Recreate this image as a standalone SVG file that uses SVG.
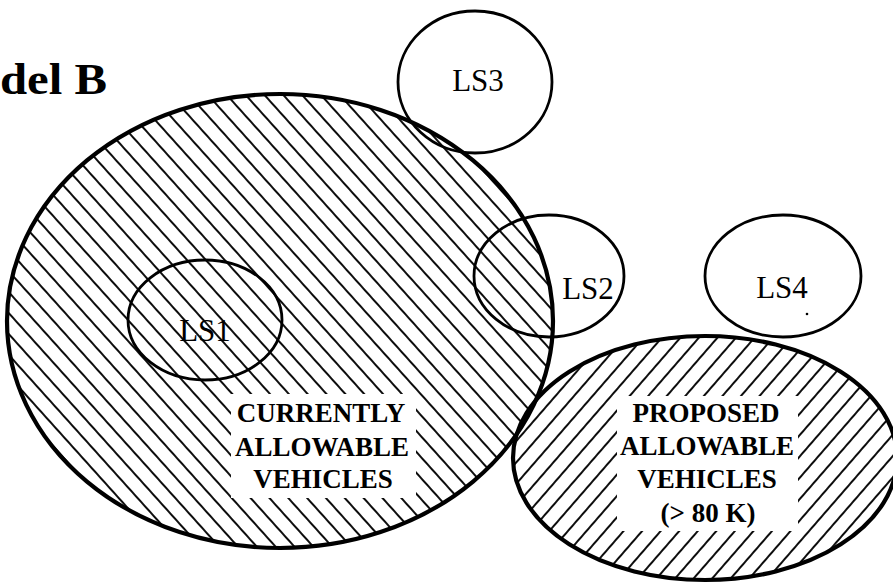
<svg xmlns="http://www.w3.org/2000/svg" width="893" height="584" viewBox="0 0 893 584">
<style>
.outline{fill:none;stroke:#000;stroke-width:2.8}
.thick{fill:none;stroke:#000;stroke-width:4.2}
.lbl{font-family:"Liberation Serif","Times New Roman",serif;font-size:31px;fill:#000;text-anchor:middle}
.big{font-family:"Liberation Serif","Times New Roman",serif;font-size:27px;font-weight:bold;fill:#000;text-anchor:middle}
.title{font-family:"Liberation Serif","Times New Roman",serif;font-size:44px;font-weight:bold;fill:#000}
</style>
<defs>
<pattern id="hatchBack" patternUnits="userSpaceOnUse" width="20" height="14" patternTransform="rotate(48)">
<line x1="-1" y1="7" x2="21" y2="7" stroke="#000" stroke-width="1.9"/>
</pattern>
<pattern id="hatchFwd" patternUnits="userSpaceOnUse" width="20" height="14" patternTransform="rotate(-49)">
<line x1="-1" y1="7" x2="21" y2="7" stroke="#000" stroke-width="1.9"/>
</pattern>
</defs>
<rect width="893" height="584" fill="#fff"/>
<text class="title" x="0" y="94" textLength="107" lengthAdjust="spacingAndGlyphs">del B</text>

<g id="current">
<ellipse cx="280" cy="321" rx="273" ry="227" fill="url(#hatchBack)"/>
</g>
<g id="proposed">
<ellipse cx="705" cy="458" rx="192" ry="122" fill="url(#hatchFwd)"/>
<rect x="617" y="396" width="181" height="135" fill="#fff"/>
<ellipse cx="705" cy="458" rx="192" ry="122" class="thick"/>
<text class="big" x="706" y="422">PROPOSED</text>
<text class="big" x="707" y="455">ALLOWABLE</text>
<text class="big" x="707" y="488">VEHICLES</text>
<text class="big" x="708" y="522">(&gt; 80 K)</text>
</g>
<g id="current-label">
<rect x="231" y="394" width="185" height="104" fill="#fff"/>
<ellipse cx="280" cy="321" rx="273" ry="227" class="thick"/>
<text class="big" x="321" y="422">CURRENTLY</text>
<text class="big" x="322" y="456">ALLOWABLE</text>
<text class="big" x="323" y="488">VEHICLES</text>
</g>
<g id="LS1">
<ellipse cx="205" cy="320" rx="77" ry="60" class="outline"/>
<text class="lbl" x="205" y="341">LS1</text>
</g>
<g id="LS2">
<ellipse cx="549" cy="276" rx="75" ry="61" class="outline"/>
<text class="lbl" x="588" y="299">LS2</text>
</g>
<g id="LS3">
<ellipse cx="475" cy="82" rx="77" ry="71" class="outline"/>
<text class="lbl" x="478" y="91">LS3</text>
</g>
<g id="LS4">
<ellipse cx="783" cy="276" rx="78" ry="61" class="outline"/>
<text class="lbl" x="782" y="298">LS4</text>
<circle cx="807" cy="314" r="1.3" fill="#000"/>
</g>
</svg>
